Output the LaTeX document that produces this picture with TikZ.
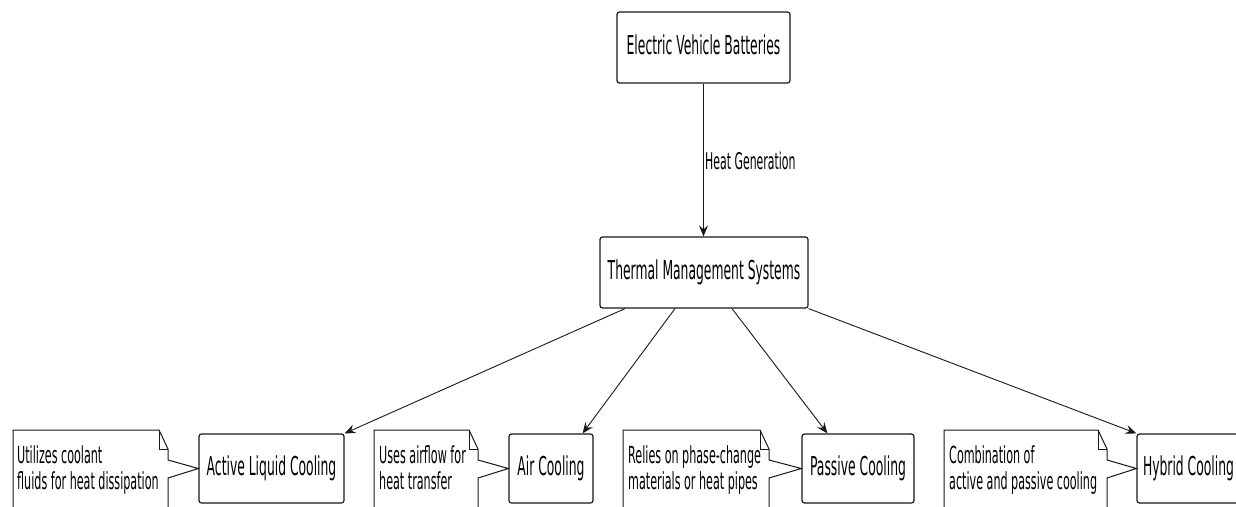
\documentclass[tikz,border=0pt]{standalone}
\usepackage{fontspec}
\setmainfont{DejaVu Sans}[FakeStretch=0.475]
\usetikzlibrary{arrows.meta,calc}
\definecolor{ln}{HTML}{181818}
\begin{document}
\begin{tikzpicture}[x=1pt,y=-1pt,
  box/.style={draw=ln,line width=1.2pt,rounded corners=2.5pt,fill=white,inner sep=0pt,
    font=\fontsize{26}{30}\selectfont,text height=19pt,text depth=6pt},
  arr/.style={draw=ln,line width=0.9pt,-{Stealth[length=11pt,width=9pt,inset=4pt]}},
  notepoly/.style={draw=ln,line width=1pt,fill=white,line join=miter},
  notetext/.style={inner sep=0pt,anchor=north west,align=left,font=\fontsize{23.5}{26}\selectfont},
  lbl/.style={inner sep=0pt,anchor=base west,font=\fontsize{23}{26}\selectfont}
]
\useasboundingbox (0,0) rectangle (1236,506);
\clip (0,0) rectangle (1236,506);

% main boxes
\node[box,minimum width=173pt,minimum height=71pt] (evb) at (703.5,47.5) {Electric Vehicle Batteries};
\node[box,minimum width=208pt,minimum height=71pt] (tms) at (704,272.5) {Thermal Management Systems};
\node[box,minimum width=145pt,minimum height=69pt] (act) at (271.5,468.5) {Active Liquid Cooling};
\node[box,minimum width=84pt,minimum height=69pt] (air) at (551,468.5) {Air Cooling};
\node[box,minimum width=112pt,minimum height=69pt] (pas) at (858,468.5) {Passive Cooling};
\node[box,minimum width=103pt,minimum height=69pt] (hyb) at (1188.5,468.5) {Hybrid Cooling};

% connectors
\draw[arr] (evb.south) -- (evb.south |- tms.north);
\node[lbl] (hg) at (705,169) {Heat Generation};
\draw[arr] ([xshift=-79pt]tms.south) -- (act.north east);
\draw[arr] ([xshift=-29pt]tms.south) -- ([xshift=-11pt]air.north east);
\draw[arr] ([xshift=28pt]tms.south) -- ([xshift=26pt]pas.north west);
\draw[arr] (tms.south east) -- (hyb.north west);

% notes
\draw[notepoly] (13,515) -- (13,430) -- (159,430) -- (168,449) -- (168,460) -- (act.west) -- (168,478) -- (168,515);
\draw[notepoly,fill=none] (159,430) -- (159,449) -- (168,449);
\node[notetext] (n1) at (17,445) {Utilizes coolant\\fluids for heat dissipation};

\draw[notepoly] (374,515) -- (374,430) -- (469,430) -- (478,449) -- (478,460) -- (air.west) -- (478,478) -- (478,515);
\draw[notepoly,fill=none] (469,430) -- (469,449) -- (478,449);
\node[notetext] (n2) at (379,445) {Uses airflow for\\heat transfer};

\draw[notepoly] (623,515) -- (623,430) -- (760,430) -- (769,449) -- (769,460) -- (pas.west) -- (769,478) -- (769,515);
\draw[notepoly,fill=none] (760,430) -- (760,449) -- (769,449);
\node[notetext] (n3) at (628,445) {Relies on phase-change\\materials or heat pipes};

\draw[notepoly] (944,515) -- (944,430) -- (1098,430) -- (1107,449) -- (1107,460) -- (hyb.west) -- (1107,478) -- (1107,515);
\draw[notepoly,fill=none] (1098,430) -- (1098,449) -- (1107,449);
\node[notetext] (n4) at (949,445) {Combination of\\active and passive cooling};
\end{tikzpicture}
\end{document}
